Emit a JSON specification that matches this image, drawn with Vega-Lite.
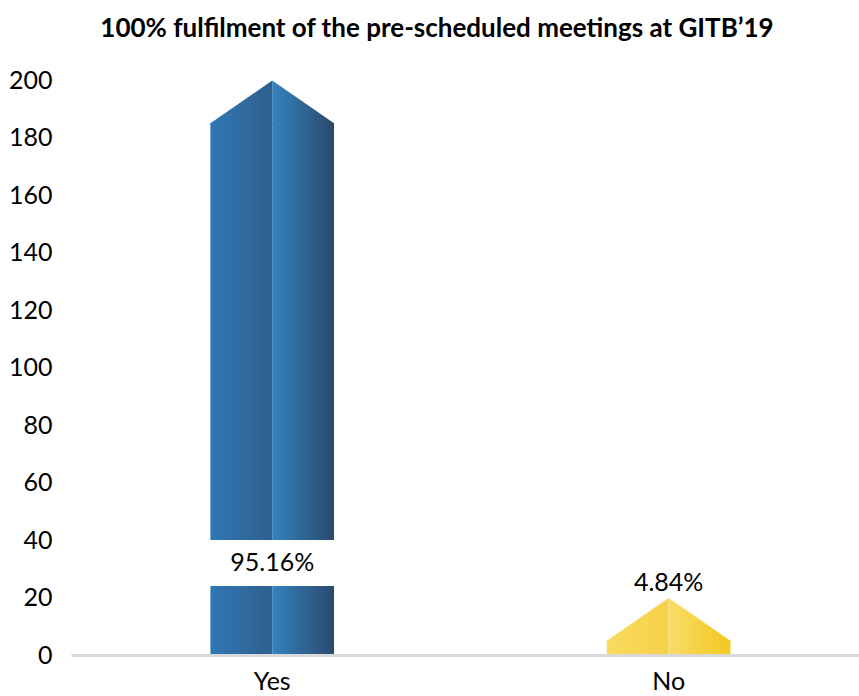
{
  "$schema": "https://vega.github.io/schema/vega-lite/v6.json",
  "autosize": {"type": "none"},
  "padding": {"left": 71, "top": 80, "right": 0, "bottom": 41},
  "width": 788,
  "height": 575,
  "background": "white",
  "title": {
    "text": "100% fulfilment of the pre-scheduled meetings at GITB’19",
    "font": "Lato",
    "fontSize": 26,
    "fontWeight": "bold",
    "color": "#000000",
    "anchor": "middle",
    "dx": -28,
    "offset": 26
  },
  "config": {
    "view": {"stroke": null}
  },
  "data": {
    "values": [
      {"answer": "Yes", "value": 185, "pct": "95.16%", "labelAt": 32, "gapLow": 24, "gapHigh": 40},
      {"answer": "No", "value": 5, "pct": "4.84%", "labelAt": 25, "gapLow": null, "gapHigh": null}
    ]
  },
  "encoding": {
    "x": {
      "field": "answer",
      "type": "nominal",
      "sort": ["Yes", "No"],
      "scale": {"paddingInner": 0.5, "paddingOuter": 0.2439, "align": 0.528},
      "axis": {
        "title": null,
        "labelAngle": 0,
        "ticks": false,
        "domainColor": "#d9d9d9",
        "domainWidth": 3,
        "labelFont": "Lato",
        "labelFontSize": 25,
        "labelColor": "#000000",
        "labelPadding": 14,
        "zindex": 1
      }
    }
  },
  "layer": [
    {
      "mark": {"type": "bar", "width": 61.8, "xOffset": -30.9},
      "encoding": {
        "y": {
          "field": "value",
          "type": "quantitative",
          "scale": {"domain": [0, 200], "nice": false},
          "axis": {
            "title": null,
            "grid": false,
            "domain": false,
            "ticks": false,
            "labelFont": "Lato",
            "labelFontSize": 25,
            "labelColor": "#000000",
            "labelPadding": 19,
            "values": [0, 20, 40, 60, 80, 100, 120, 140, 160, 180, 200]
          }
        },
        "fill": {
          "condition": {"test": "datum.answer === 'Yes'", "value": {"gradient": "linear", "stops": [{"offset": 0, "color": "#2f78b5"}, {"offset": 1, "color": "#2f5f8e"}]}},
          "value": {"gradient": "linear", "stops": [{"offset": 0, "color": "#f9db5e"}, {"offset": 1, "color": "#f6d04a"}]}
        }
      }
    },
    {
      "mark": {"type": "bar", "width": 61.8, "xOffset": 30.9},
      "encoding": {
        "y": {"field": "value", "type": "quantitative"},
        "fill": {
          "condition": {"test": "datum.answer === 'Yes'", "value": {"gradient": "linear", "stops": [{"offset": 0, "color": "#3482c0"}, {"offset": 1, "color": "#2a4a6c"}]}},
          "value": {"gradient": "linear", "stops": [{"offset": 0, "color": "#f9dc68"}, {"offset": 1, "color": "#f2c81e"}]}
        }
      }
    },
    {
      "mark": {"type": "point", "shape": "M-1,0.03L-1,0L0,-0.688L0,0.03Z", "size": 15277, "filled": true, "opacity": 1, "strokeWidth": 0},
      "encoding": {
        "y": {"field": "value", "type": "quantitative"},
        "fill": {
          "condition": {"test": "datum.answer === 'Yes'", "value": {"gradient": "linear", "stops": [{"offset": 0, "color": "#2f78b5"}, {"offset": 1, "color": "#2f5f8e"}]}},
          "value": {"gradient": "linear", "stops": [{"offset": 0, "color": "#f9db5e"}, {"offset": 1, "color": "#f6d04a"}]}
        }
      }
    },
    {
      "mark": {"type": "point", "shape": "M0,0.03L0,-0.688L1,0L1,0.03Z", "size": 15277, "filled": true, "opacity": 1, "strokeWidth": 0},
      "encoding": {
        "y": {"field": "value", "type": "quantitative"},
        "fill": {
          "condition": {"test": "datum.answer === 'Yes'", "value": {"gradient": "linear", "stops": [{"offset": 0, "color": "#3482c0"}, {"offset": 1, "color": "#2a4a6c"}]}},
          "value": {"gradient": "linear", "stops": [{"offset": 0, "color": "#f9dc68"}, {"offset": 1, "color": "#f2c81e"}]}
        }
      }
    },
    {
      "mark": {"type": "bar", "width": 128, "color": "white"},
      "encoding": {
        "y": {"field": "gapLow", "type": "quantitative"},
        "y2": {"field": "gapHigh"}
      }
    },
    {
      "mark": {"type": "text", "font": "Lato", "fontSize": 25, "color": "#000000", "baseline": "middle", "align": "center"},
      "encoding": {
        "y": {"field": "labelAt", "type": "quantitative"},
        "text": {"field": "pct"}
      }
    }
  ]
}
